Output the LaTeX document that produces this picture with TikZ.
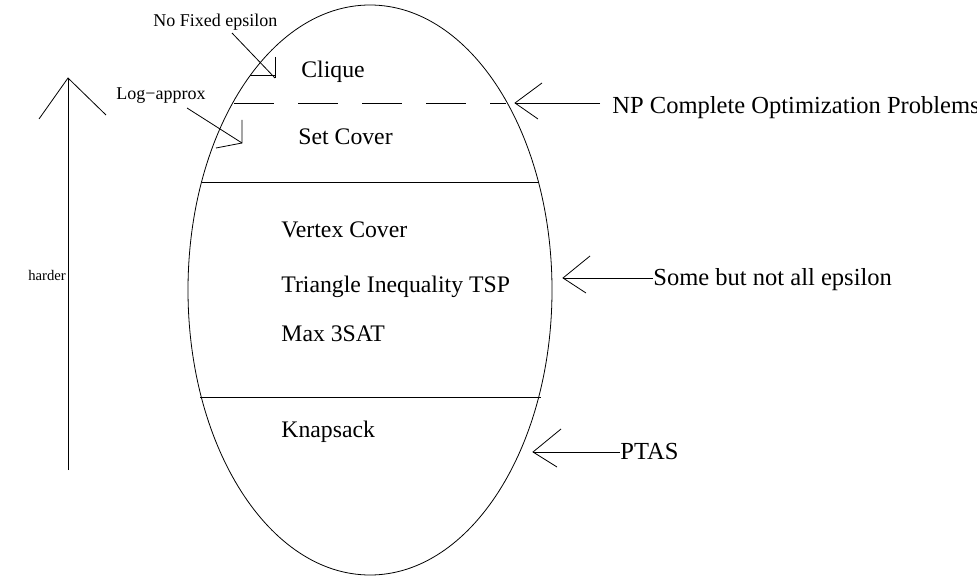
\documentclass[tikz,border=0pt]{standalone}
\usepackage{fontspec}
\setmainfont{Liberation Serif}
\begin{document}
\begin{tikzpicture}[x=0.75pt,y=-0.75pt,line width=0.6pt,
  big/.style={font=\fontsize{17.8}{20}\selectfont,anchor=base west,inner sep=0pt},
  side/.style={font=\fontsize{18.4}{21}\selectfont,anchor=base west,inner sep=0pt},
  small/.style={font=\fontsize{13.5}{16}\selectfont,anchor=base west,inner sep=0pt},
  tiny/.style={font=\fontsize{11}{13}\selectfont,anchor=base west,inner sep=0pt}]
\useasboundingbox (0,0) rectangle (977,577);
% ellipse
\draw (370,290) ellipse [x radius=182, y radius=285];
% separators
\coordinate (d1) at (234,103); \coordinate (d2) at (506,103);
\draw[dash pattern=on 30pt off 18pt] (d1) -- (d2);
\coordinate (s1) at (202,182); \coordinate (s2) at (539,182);
\draw (s1) -- (s2);
\coordinate (k1) at (200,397); \coordinate (k2) at (541,397);
\draw (k1) -- (k2);
% inner texts
\node[big] (clique) at (301,78) {Clique};
\node[big] (setcover) at (298,145) {Set Cover};
\node[big] (vc) at (281,238) {Vertex Cover};
\node[big] (tsp) at (281,292) {Triangle Inequality TSP};
\node[big] (max3) at (281,341) {Max 3SAT};
\node[big] (knap) at (281,437) {Knapsack};
% right labels
\node[side] (np) at (612,114) {NP Complete Optimization Problems};
\node[side] (some) at (653,285) {Some but not all epsilon};
\node[side] (ptas) at (620,459) {PTAS};
% NP arrow
\coordinate (npt) at (515,103);
\draw (np.west |- npt) ++(-12,0) coordinate (npe) -- (npt);
\draw (542,83) -- (npt) -- (538,119);
% some arrow
\coordinate (smt) at (563,278);
\draw (some.west |- smt) -- (smt);
\draw (590,256) -- (smt) -- (586,293);
% ptas arrow
\coordinate (ptt) at (533,452);
\draw (ptas.west |- ptt) -- (ptt);
\draw (561,429) -- (ptt) -- (557,467);
% small labels
\node[small] (nofix) at (153,27) {No Fixed epsilon};
\node[small] (logap) at (116,100) {Log{\char"2212}approx};
\coordinate (nft) at (275,78);
\coordinate (nfs) at (232,33);
\draw (nfs) -- (nft);
\draw (275,57) -- (nft);
\draw (250,75) -- (275,75);
\coordinate (lgt) at (242,143);
\coordinate (lgs) at (187,108);
\draw (lgs) -- (lgt);
\draw (242,120) -- (lgt) -- (216,148);
% harder arrow
\coordinate (ht) at (68,78);
\coordinate (hb) at (68,470);
\draw (hb) -- (ht);
\draw (39,119) -- (ht) -- (106,115);
\node[tiny] (harder) at (28,280) {harder};
\end{tikzpicture}
\end{document}
